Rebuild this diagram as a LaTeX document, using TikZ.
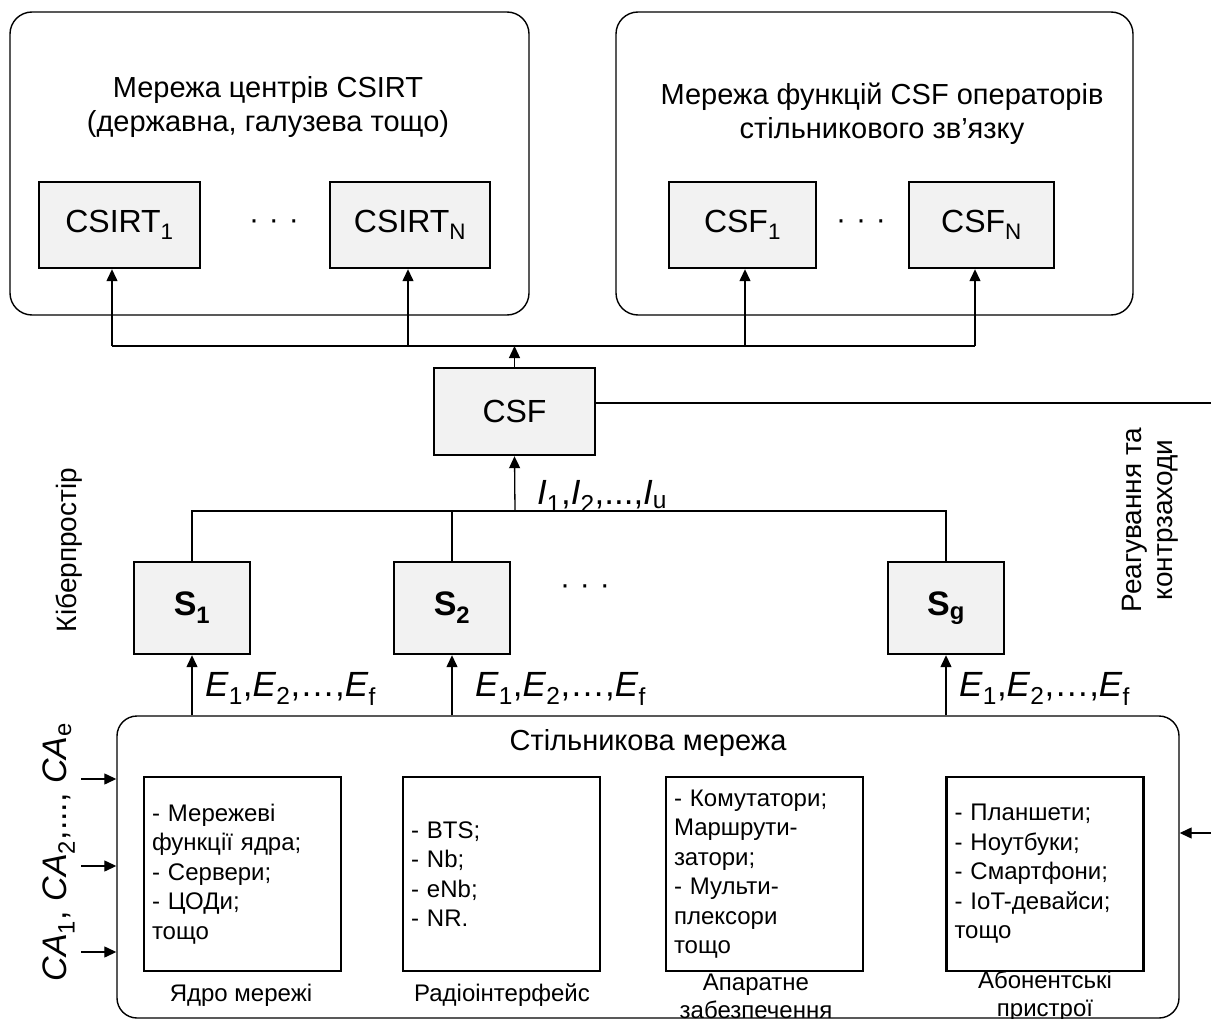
\documentclass[tikz,border=0pt]{standalone}
\usepackage{fontspec}
\setmainfont{Liberation Sans}
\usetikzlibrary{arrows.meta,calc}

\definecolor{boxfill}{RGB}{242,242,242}
\newcommand{\fsz}[2]{\fontsize{#1}{#2}\selectfont}

\tikzset{
  outer/.style={draw, line width=1.4pt, rounded corners=22pt, inner sep=0pt},
  greybox/.style={draw, line width=2.4pt, fill=boxfill, inner sep=0pt, font=\fsz{32}{38}},
  sbox/.style={greybox, minimum width=116pt, minimum height=92pt, font=\fsz{34}{38}\bfseries},
  inbox/.style={draw, line width=2.2pt, inner xsep=8pt, inner ysep=0pt, align=left,
                text width=181pt, minimum height=194pt, font=\fsz{24}{29.5}},
  conn/.style={line width=1.3pt},
  title/.style={align=center, inner sep=0pt, font=\fsz{29}{34}},
  lbl/.style={align=center, inner sep=0pt, font=\fsz{24}{28}},
  formula/.style={inner sep=0pt, font=\fsz{35}{40}},
  dots/.style={inner sep=0pt, font=\fsz{30}{36}},
  side/.style={rotate=90, align=center, inner sep=0pt, font=\fsz{28}{31}},
}

\begin{document}
\begin{tikzpicture}[x=1pt, y=-1pt, >={Triangle[width=11pt,length=12pt]}]
\useasboundingbox (0,0) rectangle (1211,1019);

% ---- CSIRT network ----
\node[outer, minimum width=519pt, minimum height=303pt] (netA) at (269.5,163.5) {};
\node[title] (titleA) at (268,107) {Мережа центрів CSIRT\\(державна, галузева тощо)};
\node[greybox, minimum width=161pt, minimum height=86pt] (csirt1) at (119.5,225) {CSIRT\textsubscript{1}};
\node[greybox, minimum width=160pt, minimum height=86pt] (csirtN) at (410,225) {CSIRT\textsubscript{N}};
\node[dots] (dotsA) at (274,225) {·\,\,·\,\,·};

% ---- CSF network of operators ----
\node[outer, minimum width=517pt, minimum height=303pt] (netB) at (874.5,163.5) {};
\node[title] (titleB) at (882,114) {Мережа функцій CSF операторів\\стільникового зв’язку};
\node[greybox, minimum width=147pt, minimum height=86pt] (csf1) at (742.5,225) {CSF\textsubscript{1}};
\node[greybox, minimum width=145pt, minimum height=86pt] (csfN) at (981.5,225) {CSF\textsubscript{N}};
\node[dots] (dotsB) at (861,225) {·\,\,·\,\,·};

% ---- distribution bus to the networks ----
\coordinate (busL) at (112,346);
\coordinate (busA) at (408,346);
\coordinate (busB) at (745,346);
\coordinate (busR) at (975,346);
\draw[conn] (busL) -- (busR);
\draw[conn,->] (busL) -- (busL |- csirt1.south);
\draw[conn,->] (busA) -- (busA |- csirtN.south);
\draw[conn,->] (busB) -- (busB |- csf1.south);
\draw[conn,->] (busR) -- (busR |- csfN.south);

% ---- central CSF ----
\node[greybox, minimum width=161pt, minimum height=87pt] (csf) at (514.5,411.5) {CSF};
\draw[conn,->] (csf.north) -- (csf.north |- busL);

% ---- sensors ----
\node[sbox] (s1) at (192,608) {S\textsubscript{1}};
\node[sbox] (s2) at (452,608) {S\textsubscript{2}};
\node[sbox] (sg) at (946,608) {S\textsubscript{g}};
\node[dots] (dotsS) at (585,590) {·\,\,·\,\,·};

\coordinate (bus2) at (515,511);
\draw[conn] (s1.north) -- (s1.north |- bus2) -- (sg.north |- bus2) -- (sg.north);
\draw[conn] (s2.north) -- (s2.north |- bus2);
\draw[conn,->] (bus2) -- (csf.south);
\node[formula, anchor=base west] (ilbl) at (537,504)
  {\textit{I}\textsubscript{1},\textit{I}\textsubscript{2},...,\textit{I}\textsubscript{u}};

% ---- cellular network ----
\node[outer, rounded corners=20pt, minimum width=1062pt, minimum height=302pt] (cell) at (648,867) {};
\node[title] (cellt) at (648,743) {Стільникова мережа};

\draw[conn,->] (s1.south |- cell.north) -- (s1.south);
\draw[conn,->] (s2.south |- cell.north) -- (s2.south);
\draw[conn,->] (sg.south |- cell.north) -- (sg.south);
\node[formula, anchor=base west] (e1) at (205,696)
  {\textit{E}\textsubscript{1},\textit{E}\textsubscript{2},…,\textit{E}\textsubscript{f}};
\node[formula, anchor=base west] (e2) at (475,696)
  {\textit{E}\textsubscript{1},\textit{E}\textsubscript{2},…,\textit{E}\textsubscript{f}};
\node[formula, anchor=base west] (e3) at (959,696)
  {\textit{E}\textsubscript{1},\textit{E}\textsubscript{2},…,\textit{E}\textsubscript{f}};

\node[inbox] (core) at (242.5,874) {- Мережеві\\функції ядра;\\- Сервери;\\- ЦОДи;\\тощо};
\node[inbox] (radio) at (501.5,874) {- BTS;\\- Nb;\\- eNb;\\- NR.};
\node[inbox] (hw) at (764.5,874) {- Комутатори;\\Маршрути-\\затори;\\- Мульти-\\плексори\\тощо};
\node[inbox] (ue) at (1045,874) {- Планшети;\\- Ноутбуки;\\- Смартфони;\\- IoT-девайси;\\тощо};

\node[lbl] (corel) at (241,995) {Ядро мережі};
\node[lbl] (radiol) at (502,995) {Радіоінтерфейс};
\node[lbl] (hwl) at (756,996) {Апаратне\\забезпечення};
\node[lbl] (uel) at (1045,996) {Абонентські\\пристрої};

% ---- cyber attacks from the left ----
\coordinate (ca1) at (81,779);
\coordinate (ca2) at (81,866);
\coordinate (ca3) at (81,952);
\draw[conn,->] (ca1) -- (ca1 -| cell.west);
\draw[conn,->] (ca2) -- (ca2 -| cell.west);
\draw[conn,->] (ca3) -- (ca3 -| cell.west);
\node[rotate=90, inner sep=0pt, font=\fsz{34}{40}] (calbl) at (59,852)
  {\textit{CA}\textsubscript{1}, \textit{CA}\textsubscript{2},..., \textit{CA}\textsubscript{e}};

% ---- response loop ----
\coordinate (r1) at (1216,403);
\coordinate (r2) at (1216,833);
\draw[conn,->] (csf.east |- r1) -- (r1) -- (r2) -- (r2 -| cell.east);

% ---- side captions ----
\node[side] (cyber) at (69,550) {Кіберпростір};
\node[side] (react) at (1150,520) {Реагування та\\контрзаходи};
\end{tikzpicture}
\end{document}
